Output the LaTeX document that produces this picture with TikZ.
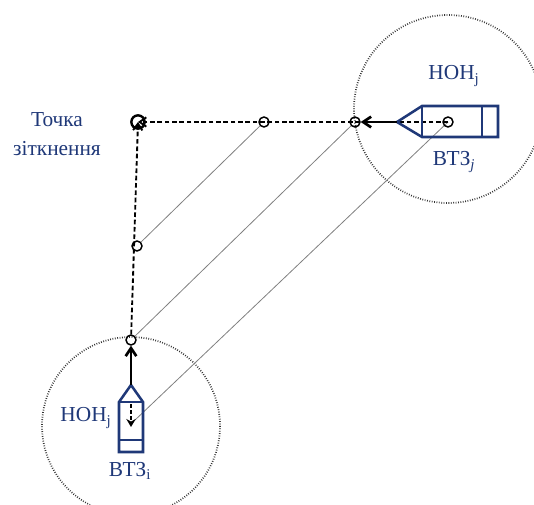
\documentclass[tikz,border=0pt]{standalone}
\usepackage{fontspec}
\setmainfont{Liberation Serif}
\usetikzlibrary{arrows.meta}
\definecolor{navy}{RGB}{31,56,120}

\begin{document}
\begin{tikzpicture}[x=0.75pt,y=-0.75pt,
  zone/.style={draw=black!80,line width=1.3pt,dash pattern=on 0.6pt off 1.2pt},
  track/.style={draw=black,line width=1.4pt,dash pattern=on 3.5pt off 2pt},
  bearing/.style={draw=black!50,line width=0.6pt},
  course/.style={draw=black,line width=2pt,-{Straight Barb[length=6pt,width=8pt]}},
  hull/.style={draw=navy,line width=1.9pt},
  posmark/.style={circle,draw=black,line width=1.1pt,inner sep=0pt,minimum size=7.5pt},
  caption/.style={text=navy,font=\fontsize{16}{19}\selectfont,inner sep=0pt}]
\useasboundingbox (0,0) rectangle (534,505);

% key positions
\coordinate (I) at (134,421);   % own ship
\coordinate (J) at (448,122);   % target ship
\coordinate (C) at (138,122);   % collision point

% safety zones
\draw[zone] (448,109) circle (94);
\draw[zone] (131,426) circle (89);

% relative bearing lines
\node[posmark] (P1) at (264,122) {};
\node[posmark] (Q)  at (355,122) {};
\node[posmark] (R)  at (137,246) {};
\node[posmark] (S)  at (131,340) {};
\draw[bearing] (R) -- (P1);
\draw[bearing] (S) -- (Q);
\draw[bearing] (I) -- (J);

% tracks towards the collision point
\draw[track,-{Straight Barb[length=5pt,width=7pt]}] (J) -- (C);
\draw[track,-{Straight Barb[length=5pt,width=7pt]}] (S) -- (C);
\node[circle,draw=black,line width=1.8pt,inner sep=0pt,minimum size=10pt] (CP) at (C) {};

% target ship
\node[circle,draw=black,line width=1.1pt,inner sep=0pt,minimum size=7.5pt] (Jc) at (J) {};
\coordinate (Jbow) at (397,122);
\draw[hull] (Jbow) -- (422,106) -- (498,106) -- (498,137) -- (422,137) -- cycle;
\draw[hull] (422,106) -- (422,137);
\draw[hull] (482,106) -- (482,137);
\draw[course] (Jbow) -- (Q);

% own ship
\coordinate (Ibow) at (131,385);
\draw[hull] (Ibow) -- (143,402) -- (143,452) -- (119,452) -- (119,402) -- cycle;
\draw[hull] (119,402) -- (143,402);
\draw[hull] (119,440) -- (143,440);
\draw[course] (Ibow) -- (S);
\coordinate (Itop) at (131,404);
\coordinate (Iend) at (131,427);
\draw[draw=black,line width=1.3pt,dash pattern=on 3pt off 1.5pt,-{Stealth[length=6pt,width=7pt]}] (Itop) -- (Iend);

% captions
\node[caption,align=center] (cp) at (57,134) {Точка\\[3pt]зіткнення};
\node[caption] (nj) at (454,76) {НОН\textsubscript{j}};
\node[caption] (bj) at (454,162) {ВТЗ\textsubscript{\textit{j}}};
\node[caption] (ni) at (86,418) {НОН\textsubscript{j}};
\node[caption] (bi) at (130,471) {ВТЗ\textsubscript{i}};
\end{tikzpicture}
\end{document}
